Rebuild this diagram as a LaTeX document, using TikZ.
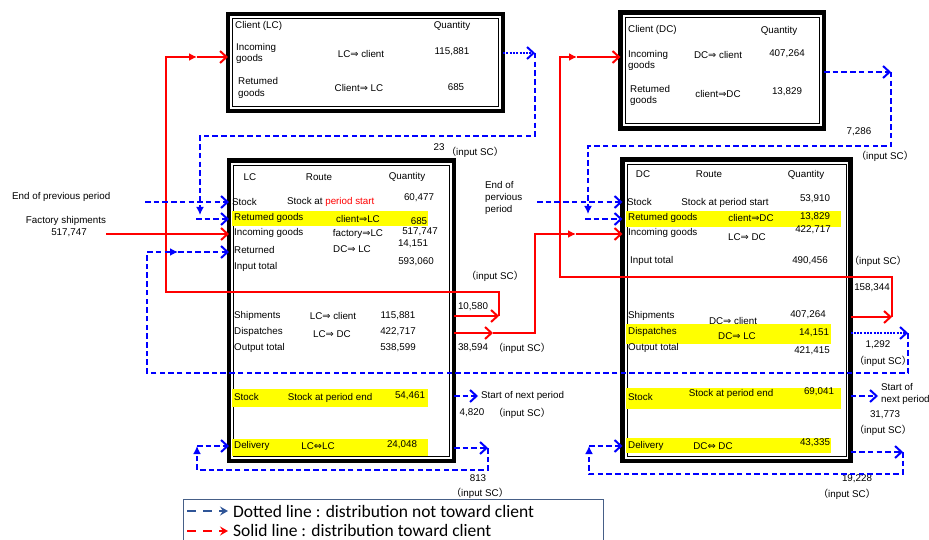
\documentclass[tikz,border=0pt]{standalone}
\usepackage{fontspec}
\setmainfont{Liberation Sans}
\newfontfamily\cjkfont{Noto Sans CJK JP}
\newfontfamily\symfont{DejaVu Sans}
\newfontfamily\legendfont{Carlito}
\usetikzlibrary{arrows.meta}
\newcommand\rtarr{{\symfont ⇒}}
\newcommand\lrtarr{{\symfont ⇔}}
\newcommand\insc{{\cjkfont （}input SC{\cjkfont ）}}
\definecolor{hl}{RGB}{255,255,0}
\definecolor{legbord}{RGB}{70,95,135}
\definecolor{legblue}{RGB}{47,85,151}
\begin{document}
\begin{tikzpicture}[x=1pt,y=-1pt,
  panel/.style={draw, line width=4.4pt, inner sep=0pt, outer sep=0pt, anchor=north west},
  lbl/.style={font=\fontsize{9.8}{11.5}\selectfont, inner sep=0pt, align=center},
  lbll/.style={lbl, anchor=west, align=left},
  redln/.style={draw=red, line width=2pt},
  dashln/.style={draw=blue, line width=2pt, dash pattern=on 5.5pt off 3.2pt},
  dotln/.style={draw=blue, line width=2pt, dash pattern=on 2pt off 1.3pt},
  chevarr/.style={-{Straight Barb[length=6.5pt,width=12pt,line width=2pt]}},
  midarr/.style={-{Latex[length=8pt,width=8pt]}},
  legtxt/.style={font=\legendfont\fontsize{17.5}{20}\selectfont, inner sep=0pt, anchor=west}
]
\useasboundingbox (0,0) rectangle (929,540);

% ---------- boxes ----------
\node[panel, minimum width=275pt, minimum height=97pt] (ClientLC) at (228,14) {};
\node[panel, line width=4.8pt, minimum width=203.5pt, minimum height=116pt] (ClientDC) at (620.5,12.5) {};
\node[panel, minimum width=225pt, minimum height=300.5pt] (LC) at (229,160.5) {};
\node[panel, minimum width=228pt, minimum height=301.5pt] (DC) at (622.5,159.5) {};
\foreach \b in {ClientLC,ClientDC,LC,DC}
  \draw[line width=0.8pt] ([shift={(4.6,4.6)}]\b.north west) rectangle ([shift={(-4.6,-4.6)}]\b.south east);

% ---------- highlighted rows ----------
\fill[hl] (232,211) rectangle (428,226);
\fill[hl] (232,389) rectangle (428,407);
\fill[hl] (232,439) rectangle (428,456);
\fill[hl] (626,211) rectangle (841,227);
\fill[hl] (626,324) rectangle (831,344);
\fill[hl] (626,388) rectangle (841,409);
\fill[hl] (626,438) rectangle (831,453);

% ---------- client (LC) ----------
\node[lbll] (clcT) at (235,26) {Client (LC)};
\node[lbl] (clcQ) at (452,26) {Quantity};
\node[lbll] (clcIn) at (236,53.5) {Incoming\\goods};
\node[lbl] (clcInR) at (361,54) {LC\rtarr{} client};
\node[lbl] (clcInQ) at (452,52) {115,881};
\node[lbll] (clcRet) at (238,88) {Retumed\\goods};
\node[lbl] (clcRetR) at (359,88) {Client\rtarr{} LC};
\node[lbl] (clcRetQ) at (456,87) {685};

% ---------- client (DC) ----------
\node[lbll] (cdcT) at (628,30) {Client (DC)};
\node[lbl] (cdcQ) at (779,31) {Quantity};
\node[lbll] (cdcIn) at (628,60.5) {Incoming\\goods};
\node[lbl] (cdcInR) at (718,55) {DC\rtarr{} client};
\node[lbl] (cdcInQ) at (787,54) {407,264};
\node[lbll] (cdcRet) at (630,95.5) {Retumed\\goods};
\node[lbl] (cdcRetR) at (718,94) {client\rtarr{}DC};
\node[lbl] (cdcRetQ) at (787,92) {13,829};

% ---------- LC ----------
\node[lbl] (lcH1) at (250,177) {LC};
\node[lbl] (lcH2) at (319,177) {Route};
\node[lbl] (lcH3) at (407,177) {Quantity};
\node[lbll] (lcStock) at (232,202) {Stock};
\node[lbll] (lcStockR) at (287,202) {Stock at {\color{red}period start}};
\node[lbl] (lcStockQ) at (419,198) {60,477};
\node[lbll] (lcRet) at (234,218) {Retumed goods};
\node[lbl] (lcRetR) at (358,219) {client\rtarr{}LC};
\node[lbl] (lcRetQ) at (419,221) {685};
\node[lbll] (lcIn) at (234,233) {Incoming goods};
\node[lbl] (lcInR) at (358,234) {factory\rtarr{}LC};
\node[lbl] (lcInQ) at (420,232) {517,747};
\node[lbl] (lcRet2Q) at (413,244) {14,151};
\node[lbll] (lcRet2) at (234,250) {Returned};
\node[lbl] (lcRet2R) at (352,249) {DC\rtarr{} LC};
\node[lbll] (lcInT) at (234,267) {Input total};
\node[lbl] (lcInTQ) at (416,262) {593,060};
\node[lbll] (lcShip) at (234,316) {Shipments};
\node[lbl] (lcShipR) at (333,316) {LC\rtarr{} client};
\node[lbl] (lcShipQ) at (398,316) {115,881};
\node[lbll] (lcDisp) at (234,332) {Dispatches};
\node[lbl] (lcDispR) at (332,334) {LC\rtarr{} DC};
\node[lbl] (lcDispQ) at (398,332) {422,717};
\node[lbll] (lcOut) at (234,348) {Output total};
\node[lbl] (lcOutQ) at (398,348) {538,599};
\node[lbll] (lcEnd) at (234,397) {Stock};
\node[lbl] (lcEndR) at (330,398) {Stock at period end};
\node[lbl] (lcEndQ) at (410,396) {54,461};
\node[lbll] (lcDel) at (234,446) {Delivery};
\node[lbl] (lcDelR) at (318,446) {LC\lrtarr{}LC};
\node[lbl] (lcDelQ) at (402,445) {24,048};

% ---------- DC ----------
\node[lbl] (dcH1) at (643,174) {DC};
\node[lbl] (dcH2) at (709,174) {Route};
\node[lbl] (dcH3) at (806,175) {Quantity};
\node[lbll] (dcStock) at (627,202) {Stock};
\node[lbl] (dcStockR) at (725,203) {Stock at period start};
\node[lbl] (dcStockQ) at (815,199) {53,910};
\node[lbll] (dcRet) at (628,218) {Retumed goods};
\node[lbl] (dcRetR) at (751,218) {client\rtarr{}DC};
\node[lbl] (dcRetQ) at (815,217) {13,829};
\node[lbll] (dcIn) at (628,233) {Incoming goods};
\node[lbl] (dcInR) at (747,237) {LC\rtarr{} DC};
\node[lbl] (dcInQ) at (813,230) {422,717};
\node[lbll] (dcInT) at (630,261) {Input total};
\node[lbl] (dcInTQ) at (810,261) {490,456};
\node[lbll] (dcShip) at (628,316) {Shipments};
\node[lbl] (dcShipR) at (733,321) {DC\rtarr{} client};
\node[lbl] (dcShipQ) at (808,315) {407,264};
\node[lbll] (dcDisp) at (628,332) {Dispatches};
\node[lbl] (dcDispR) at (737,336) {DC\rtarr{} LC};
\node[lbl] (dcDispQ) at (814,333) {14,151};
\node[lbll] (dcOut) at (628,348) {Output total};
\node[lbl] (dcOutQ) at (812,351) {421,415};
\node[lbll] (dcEnd) at (628,397) {Stock};
\node[lbl] (dcEndR) at (731,394) {Stock at period end};
\node[lbl] (dcEndQ) at (819,392) {69,041};
\node[lbll] (dcDel) at (628,446) {Delivery};
\node[lbl] (dcDelR) at (713,446) {DC\lrtarr{} DC};
\node[lbl] (dcDelQ) at (815,443) {43,335};

% ---------- outside labels ----------
\node[lbll] (prevLC) at (12,197) {End of previous period};
\node[lbl] (facT) at (66,221) {Factory shipments};
\node[lbl] (facQ) at (69,233) {517,747};
\node[lbll, font=\fontsize{9.8}{12}\selectfont] (prevDC) at (485,198) {End of\\pervious\\period};
\node[lbl] (q23) at (439,147) {23};
\node[lbl] (s23) at (475,152) {\insc};
\node[lbl] (s10580) at (495,276) {\insc};
\node[lbl] (q10580) at (473,307) {10,580};
\node[lbl] (q38594) at (473,348) {38,594};
\node[lbl] (s38594) at (522,348) {\insc};
\node[lbll] (lcNext) at (481,396) {Start of next period};
\node[lbl] (q4820) at (472,413) {4,820};
\node[lbl] (s4820) at (522,413) {\insc};
\node[lbl] (q813) at (478,478) {813};
\node[lbl] (s813) at (480,493) {\insc};
\node[lbl] (q7286) at (859,132) {7,286};
\node[lbl] (s7286) at (885,156) {\insc};
\node[lbl] (s158344) at (878,261) {\insc};
\node[lbl] (q158344) at (872,288) {158,344};
\node[lbl] (q1292) at (878,345) {1,292};
\node[lbl] (s1292) at (883,361) {\insc};
\node[lbll] (dcNext) at (881,394) {Start of\\next period};
\node[lbl] (q31773) at (885,415) {31,773};
\node[lbl] (s31773) at (883,430) {\insc};
\node[lbl] (q19228) at (857,479) {19,228};
\node[lbl] (s19228) at (847,494) {\insc};

% ---------- route points ----------
\coordinate (r1a) at (499,316);
\coordinate (r1b) at (499,292);
\coordinate (r1c) at (166,292);
\coordinate (r1d) at (166,57);
\coordinate (r1m) at (197,57);
\coordinate (r2a) at (493,333);
\coordinate (r2b) at (535,333);
\coordinate (r2c) at (535,234);
\coordinate (r2m) at (576,234);
\coordinate (fs) at (106,234);
\coordinate (r4a) at (892,317);
\coordinate (r4b) at (892,277);
\coordinate (r4c) at (560,277);
\coordinate (r4d) at (560,57);
\coordinate (r4m) at (577,57);
\coordinate (b1a) at (535,53);
\coordinate (b1b) at (535,136);
\coordinate (b1c) at (200,136);
\coordinate (b1d) at (200,215);
\coordinate (b1e) at (196,219);
\coordinate (b2a) at (891,72);
\coordinate (b2b) at (891,146);
\coordinate (b2c) at (588,146);
\coordinate (b2d) at (588,214);
\coordinate (b2e) at (585,219);
\coordinate (b3) at (145,202);
\coordinate (b4) at (537,202);
\coordinate (b5a) at (908,333);
\coordinate (b5b) at (908,373);
\coordinate (b5c) at (147,373);
\coordinate (b5d) at (147,252);
\coordinate (b5m) at (178,252);
\coordinate (b7) at (878,396);
\coordinate (b8a) at (488,448);
\coordinate (b8b) at (488,470);
\coordinate (b8c) at (197,470);
\coordinate (b8d) at (197,446);
\coordinate (b9a) at (903,452);
\coordinate (b9b) at (903,474);
\coordinate (b9c) at (589,474);
\coordinate (b9d) at (589,446);

% ---------- distribution toward client (red) ----------
\draw[redln, chevarr] (LC.east |- r1a) -- (r1a);
\draw[redln, midarr] (r1a) -- (r1b) -- (r1c) -- (r1d) -- (r1m);
\draw[redln, chevarr] (r1m) -- (ClientLC.west |- r1m);
\draw[redln, chevarr] (LC.east |- r2a) -- (r2a);
\draw[redln, midarr] (r2a) -- (r2b) -- (r2c) -- (r2m);
\draw[redln, chevarr] (r2m) -- (DC.west |- r2m);
\draw[redln, chevarr] (fs) -- (LC.west |- fs);
\draw[redln, chevarr] (DC.east |- r4a) -- (r4a);
\draw[redln, midarr] (r4a) -- (r4b) -- (r4c) -- (r4d) -- (r4m);
\draw[redln, chevarr] (r4m) -- (ClientDC.west |- r4m);

% ---------- distribution not toward client (blue) ----------
\draw[dotln, chevarr] (ClientLC.east |- b1a) -- (b1a);
\draw[dashln, midarr] (b1a) -- (b1b) -- (b1c) -- (b1d);
\draw[dashln, chevarr] (b1e) -- (LC.west |- b1e);
\draw[dashln, chevarr] (ClientDC.east |- b2a) -- (b2a);
\draw[dashln, midarr] (b2a) -- (b2b) -- (b2c) -- (b2d);
\draw[dashln, chevarr] (b2e) -- (DC.west |- b2e);
\draw[dashln, chevarr] (b3) -- (LC.west |- b3);
\draw[dashln, chevarr] (b4) -- (DC.west |- b4);
\draw[dotln, chevarr] (DC.east |- b5a) -- (b5a);
\draw[dashln, midarr] (b5a) -- (b5b) -- (b5c) -- (b5d) -- (b5m);
\draw[dashln, chevarr] (b5m) -- (LC.west |- b5m);
\draw[dashln, chevarr, shorten >=3pt] (LC.east |- lcNext) -- (lcNext.west);
\draw[dashln, chevarr] (DC.east |- b7) -- (b7);
\draw[dashln, chevarr] (LC.east |- b8a) -- (b8a);
\draw[dashln, midarr] (b8a) -- (b8b) -- (b8c) -- (b8d);
\draw[dashln, chevarr] (b8d) -- (LC.west |- b8d);
\draw[dashln, chevarr] (DC.east |- b9a) -- (b9a);
\draw[dashln, midarr] (b9a) -- (b9b) -- (b9c) -- (b9d);
\draw[dashln, chevarr] (b9d) -- (DC.west |- b9d);

% ---------- legend ----------
\node[draw=legbord, line width=1pt, minimum width=420pt, minimum height=46pt, inner sep=0pt, anchor=north west] (legend) at (183,499) {};
\coordinate (l1a) at (187,511);
\coordinate (l1b) at (228,511);
\coordinate (l2a) at (187,531);
\coordinate (l2b) at (228,531);
\draw[legblue, line width=2.6pt, dash pattern=on 9pt off 7pt, -{Stealth[length=8pt,width=9pt,inset=3pt]}] (l1a) -- (l1b);
\draw[red, line width=2.6pt, dash pattern=on 9pt off 7pt, -{Stealth[length=8pt,width=9pt,inset=3pt]}] (l2a) -- (l2b);
\node[legtxt] (leg1) at (233,511) {Dotted line : distribution not toward client};
\node[legtxt] (leg2) at (233,530.5) {Solid line : distribution toward client};
\end{tikzpicture}
\end{document}
